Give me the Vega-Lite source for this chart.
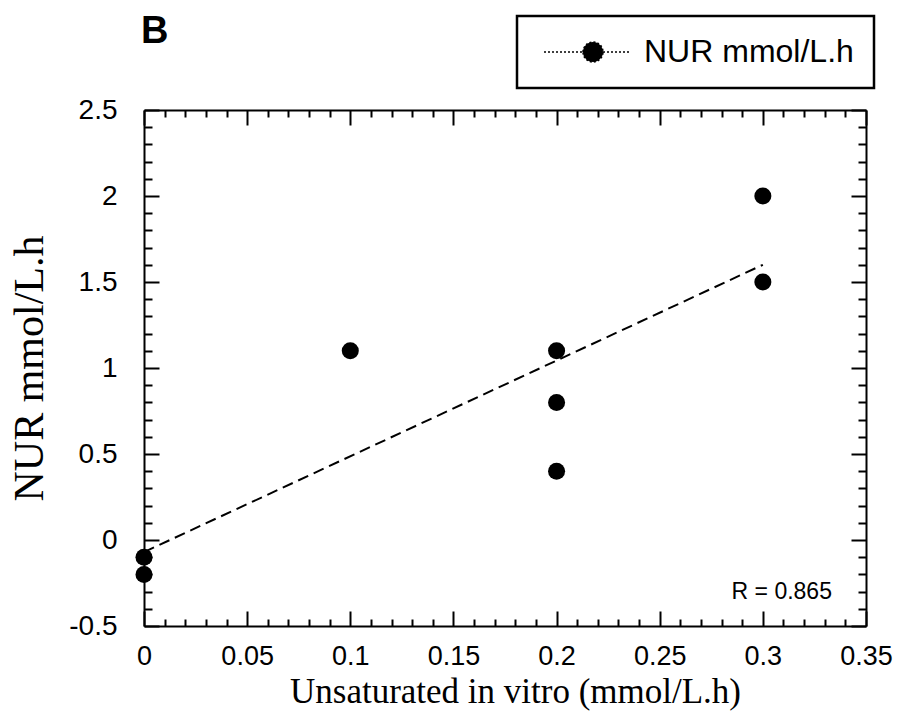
{
  "$schema": "https://vega.github.io/schema/vega-lite/v6.json",
  "width": 722,
  "height": 516,
  "autosize": {"type": "none"},
  "padding": {"left": 144, "top": 110, "right": 39, "bottom": 93},
  "background": "white",
  "title": {"text": "B", "anchor": "start", "font": "Liberation Sans", "fontSize": 38, "fontWeight": "bold", "color": "black", "frame": "group", "baseline": "alphabetic", "offset": 0, "dy": 66, "dx": -3},
  "datasets": {
    "pts": [
      {"x": 0, "y": -0.1, "series": "NUR mmol/L.h"},
      {"x": 0, "y": -0.2, "series": "NUR mmol/L.h"},
      {"x": 0.1, "y": 1.1, "series": "NUR mmol/L.h"},
      {"x": 0.2, "y": 1.1, "series": "NUR mmol/L.h"},
      {"x": 0.2, "y": 0.8, "series": "NUR mmol/L.h"},
      {"x": 0.2, "y": 0.4, "series": "NUR mmol/L.h"},
      {"x": 0.3, "y": 2.0, "series": "NUR mmol/L.h"},
      {"x": 0.3, "y": 1.5, "series": "NUR mmol/L.h"}
    ],
    "fit": [
      {"x": 0, "y": -0.07},
      {"x": 0.3, "y": 1.6}
    ],
    "note": [
      {"x": 0.3335, "y": -0.3, "label": "R = 0.865"}
    ]
  },
  "layer": [
    {
      "data": {"name": "pts"},
      "mark": {"type": "point", "filled": true, "size": 290, "opacity": 1},
      "encoding": {
        "x": {
          "field": "x", "type": "quantitative",
          "scale": {"domain": [0, 0.35], "nice": false, "zero": false},
          "axis": {
            "orient": "bottom",
            "title": "Unsaturated in vitro (mmol/L.h)",
            "values": [0,0.01,0.02,0.03,0.04,0.05,0.06,0.07,0.08,0.09,0.1,0.11,0.12,0.13,0.14,0.15,0.16,0.17,0.18,0.19,0.2,0.21,0.22,0.23,0.24,0.25,0.26,0.27,0.28,0.29,0.3,0.31,0.32,0.33,0.34,0.35],
            "labelExpr": "abs(datum.value*20-round(datum.value*20))<0.001 ? replace(format(datum.value,'~g'),'\u2212','-') : ''",
            "tickSize": {"condition": {"test": "abs(datum.value*20-round(datum.value*20))<0.001", "value": -15}, "value": -7},
            "labelPadding": 32,
            "labelFontSize": 27,
            "labelFlush": false,
            "labelOverlap": false,
            "titleX": 371,
            "titleY": 76,
            "titleBaseline": "alphabetic",
            "titleAnchor": "middle",
            "titleAlign": "center",
            "titleFontSize": 35
          }
        },
        "y": {
          "field": "y", "type": "quantitative",
          "scale": {"domain": [-0.5, 2.5], "nice": false, "zero": false},
          "axis": {
            "orient": "left",
            "title": "NUR mmol/L.h",
            "values": [-0.5,-0.4,-0.3,-0.2,-0.1,0,0.1,0.2,0.3,0.4,0.5,0.6,0.7,0.8,0.9,1,1.1,1.2,1.3,1.4,1.5,1.6,1.7,1.8,1.9,2,2.1,2.2,2.3,2.4,2.5],
            "labelExpr": "abs(datum.value*2-round(datum.value*2))<0.001 ? replace(format(datum.value,'~g'),'\u2212','-') : ''",
            "tickSize": {"condition": {"test": "abs(datum.value*2-round(datum.value*2))<0.001", "value": -15}, "value": -8},
            "labelPadding": 42,
            "labelFlush": false,
            "labelOverlap": false,
            "titleX": -115,
            "titleY": 258,
            "titleAngle": -90,
            "titleBaseline": "middle",
            "titleAlign": "center",
            "titleFontSize": 42
          }
        },
        "color": {
          "field": "series", "type": "nominal",
          "scale": {"range": ["black"]},
          "legend": {
            "title": null,
            "orient": "none",
            "legendX": 373,
            "legendY": -94,
            "padding": 20,
            "symbolType": "M-4.9,0H-1M1,0H3.8M-1,0A1,1 0 1 1 1,0A1,1 0 1 1 -1,0Z",
            "symbolSize": 400,
            "symbolOffset": 40,
            "symbolFillColor": "black",
            "symbolStrokeColor": "black",
            "symbolStrokeWidth": 1.5,
            "symbolDash": [2, 2],
            "labelOffset": 35,
            "labelFont": "Liberation Sans",
            "labelFontSize": 32,
            "labelColor": "black",
            "labelLimit": 400,
            "strokeColor": "black",
            "fillColor": "white"
          }
        }
      }
    },
    {
      "data": {"name": "fit"},
      "mark": {"type": "line", "color": "black", "strokeWidth": 2, "strokeDash": [11, 6]},
      "encoding": {
        "x": {
          "field": "x", "type": "quantitative",
          "axis": {
            "orient": "top",
            "title": null,
            "labels": false,
            "values": [0,0.01,0.02,0.03,0.04,0.05,0.06,0.07,0.08,0.09,0.1,0.11,0.12,0.13,0.14,0.15,0.16,0.17,0.18,0.19,0.2,0.21,0.22,0.23,0.24,0.25,0.26,0.27,0.28,0.29,0.3,0.31,0.32,0.33,0.34,0.35],
            "tickSize": {"condition": {"test": "abs(datum.value*20-round(datum.value*20))<0.001", "value": -15}, "value": -7}
          }
        },
        "y": {
          "field": "y", "type": "quantitative",
          "axis": {
            "orient": "right",
            "title": null,
            "labels": false,
            "values": [-0.5,-0.4,-0.3,-0.2,-0.1,0,0.1,0.2,0.3,0.4,0.5,0.6,0.7,0.8,0.9,1,1.1,1.2,1.3,1.4,1.5,1.6,1.7,1.8,1.9,2,2.1,2.2,2.3,2.4,2.5],
            "tickSize": {"condition": {"test": "abs(datum.value*2-round(datum.value*2))<0.001", "value": -15}, "value": -8}
          }
        }
      }
    },
    {
      "data": {"name": "note"},
      "mark": {"type": "text", "align": "right", "baseline": "middle", "font": "Liberation Sans", "fontSize": 23, "color": "black"},
      "encoding": {
        "x": {"field": "x", "type": "quantitative", "axis": null},
        "y": {"field": "y", "type": "quantitative", "axis": null},
        "text": {"field": "label"}
      }
    }
  ],
  "resolve": {"axis": {"x": "independent", "y": "independent"}},
  "config": {
    "view": {"stroke": null},
    "axis": {
      "grid": false,
      "domainColor": "black",
      "domainWidth": 2,
      "tickColor": "black",
      "tickWidth": 2,
      "labelFont": "Liberation Sans",
      "labelFontSize": 28,
      "labelColor": "black",
      "titleFont": "Liberation Serif",
      "titleFontSize": 38,
      "titleFontWeight": "normal",
      "titleColor": "black"
    },
    "legend": {"strokeWidth": 2.5}
  }
}
